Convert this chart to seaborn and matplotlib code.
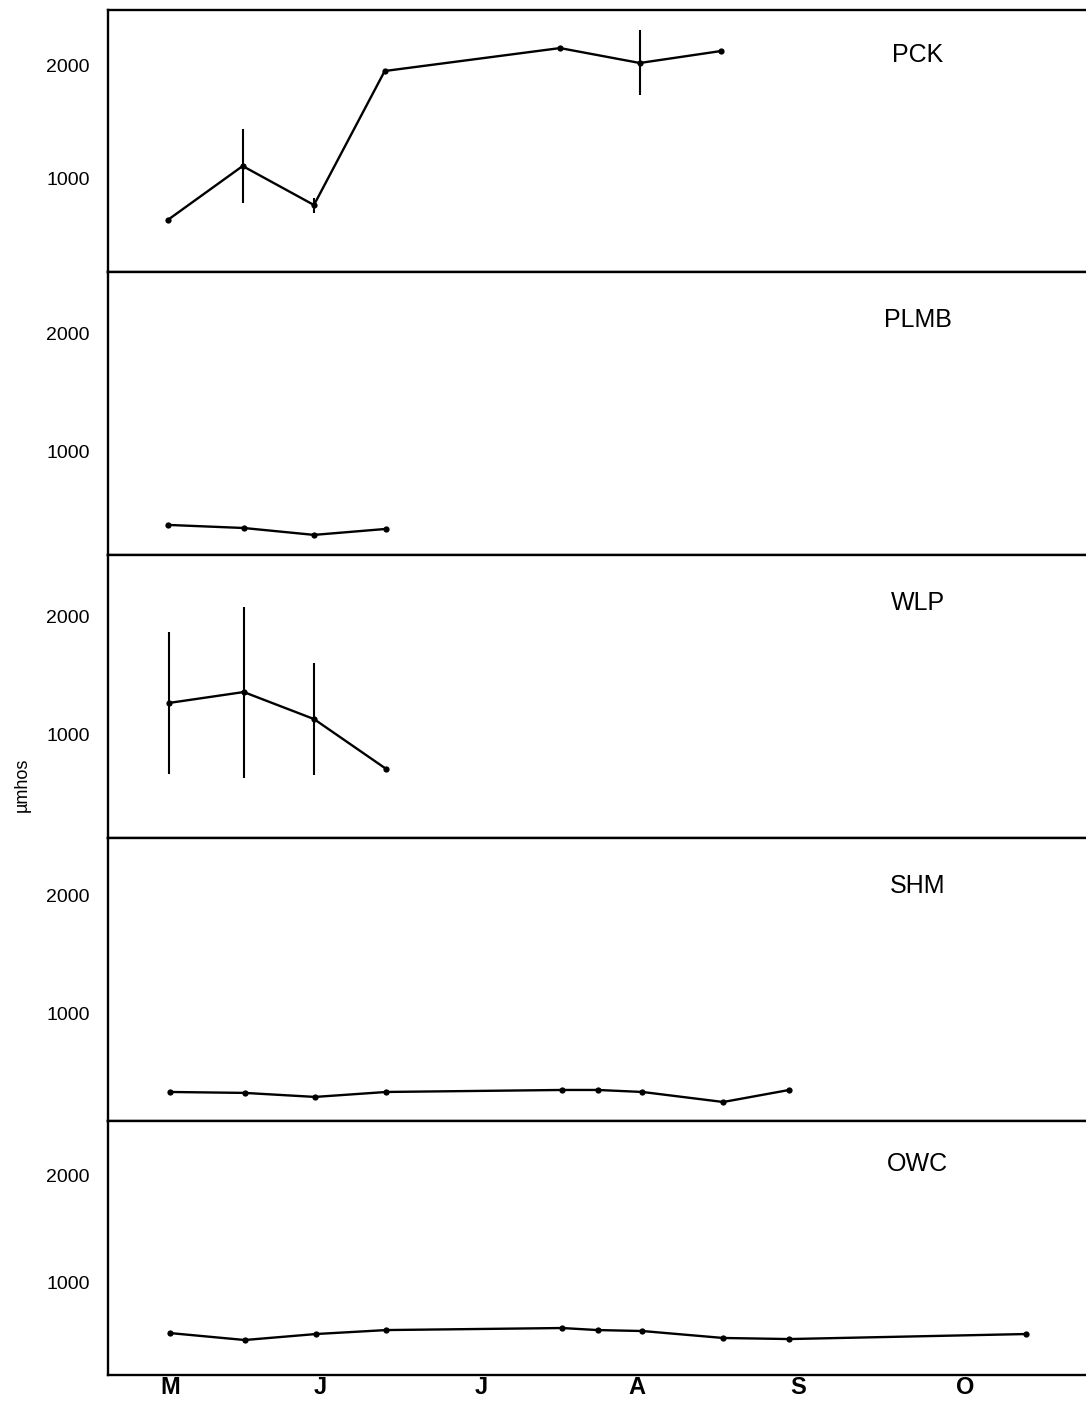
import matplotlib
matplotlib.use("Agg")
import matplotlib.pyplot as plt
import seaborn as sns
import numpy as np
import pandas as pd

# ---- data (x = day of year, y = conductivity in µmhos) ----
stations = ["PCK", "PLMB", "WLP", "SHM", "OWC"]

pck_x = [134.6, 148.8, 162.3, 175.7, 208.9, 224.0, 239.4]
pck_y = [628, 1106, 761, 1947, 2150, 2018, 2124]
pck_lo = [628, 779, 690, 1947, 2150, 1735, 2124]
pck_hi = [628, 1434, 823, 1947, 2150, 2310, 2124]

plmb_x = [134.6, 149, 162.3, 175.9]
plmb_y = [387, 361, 303, 353]

wlp_x = [134.8, 149, 162.3, 176]
wlp_y = [1269, 1361, 1134, 714]
wlp_lo = [672, 639, 664, 714]
wlp_hi = [1866, 2076, 1605, 714]

shm_x = [135, 149.2, 162.5, 176, 209.3, 216, 224.5, 239.8, 252.3]
shm_y = [339, 331, 297, 339, 356, 356, 339, 254, 356]

owc_x = [135, 149.2, 162.7, 176, 209.3, 216, 224.5, 239.8, 252.3, 297.2]
owc_y = [523, 458, 514, 551, 570, 551, 542, 477, 467, 514]

month_ticks = [135, 163.4, 193.9, 223.5, 254, 285.6]
month_labels = ["M", "J", "J", "A", "S", "O"]
ytick_vals = [1000, 2000]

series = {
    "PCK": (pck_x, pck_y, pck_lo, pck_hi),
    "PLMB": (plmb_x, plmb_y, None, None),
    "WLP": (wlp_x, wlp_y, wlp_lo, wlp_hi),
    "SHM": (shm_x, shm_y, None, None),
    "OWC": (owc_x, owc_y, None, None),
}

ylims = {"PCK": (168, 2487), "PLMB": (134, 2513), "WLP": (134, 2513),
         "SHM": (93, 2491), "OWC": (131, 2505)}

sns.set_theme(style="white")
plt.rcParams["font.family"] = ["Liberation Sans", "DejaVu Sans"]

fig = plt.figure(figsize=(10.86, 14.02), dpi=100)
gs = fig.add_gridspec(5, 1, height_ratios=[262, 283, 283, 283, 254], hspace=0,
                      left=108 / 1086, right=1.0, top=1 - 10 / 1402, bottom=1 - 1375 / 1402)
axes = [fig.add_subplot(gs[i, 0]) for i in range(5)]
for i in range(1, 5):
    axes[i].sharex(axes[0])

for ax, name in zip(axes, stations):
    x, y, lo, hi = series[name]
    df = pd.DataFrame({"day": x, "cond": y})
    sns.lineplot(data=df, x="day", y="cond", ax=ax, color="black", linewidth=1.7,
                 marker="o", markersize=4.5, markeredgewidth=0, estimator=None)
    if lo is not None:
        y_arr = np.array(y)
        err = np.vstack([y_arr - np.array(lo), np.array(hi) - y_arr])
        ax.errorbar(x, y, yerr=err, fmt="none", ecolor="black", elinewidth=1.5, capsize=0)
    ax.set_ylim(*ylims[name])
    ax.set_xlim(123.3, 308.5)
    ax.set_yticks(ytick_vals)
    ax.set_yticklabels([str(v) for v in ytick_vals], fontsize=14, color="black")
    ax.tick_params(axis="y", direction="out", length=7, width=1.2, color="black",
                   pad=6, labelcolor="black")
    ax.tick_params(axis="x", length=0)
    ax.set_xlabel("")
    ax.set_ylabel("")
    for side in ["top", "bottom", "left"]:
        ax.spines[side].set_visible(True)
        ax.spines[side].set_color("black")
        ax.spines[side].set_linewidth(1.7)
    ax.spines["right"].set_visible(False)
    ax.text(0.828, 0.83, name, transform=ax.transAxes, ha="center", va="center",
            fontsize=18, color="black")
    if ax is not axes[-1]:
        plt.setp(ax.get_xticklabels(), visible=False)

axes[-1].set_xticks(month_ticks)
axes[-1].set_xticklabels(month_labels, fontsize=17, fontweight="bold", color="black")
axes[-1].tick_params(axis="x", pad=1, labelcolor="black")

fig.text(22 / 1086, 1 - 785 / 1402, "µmhos", rotation=90, ha="center", va="center",
         fontsize=13, color="black")

fig.savefig("out.png", dpi=100, facecolor="white")
